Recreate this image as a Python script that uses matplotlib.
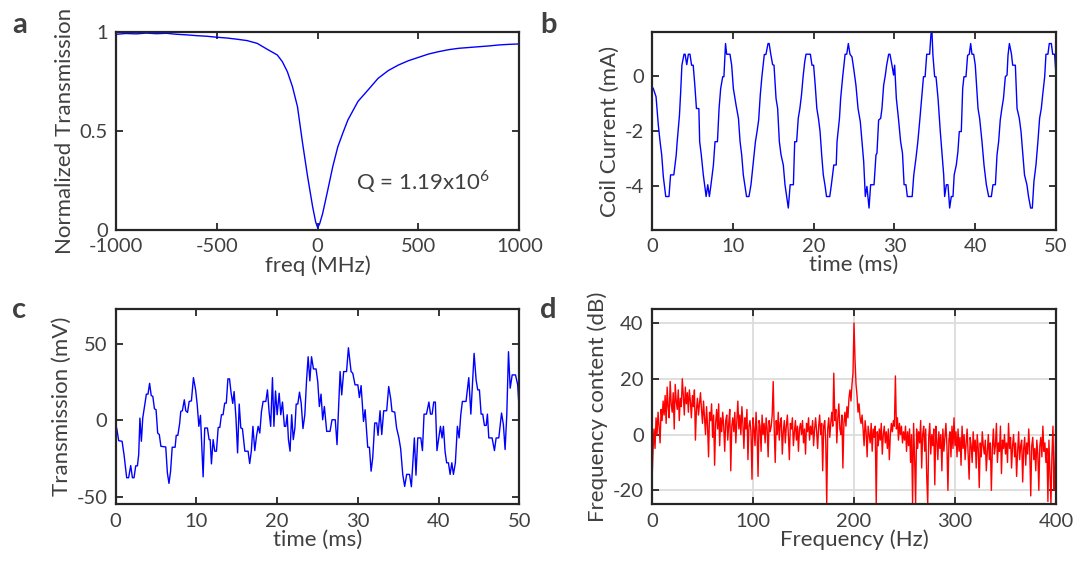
import numpy as np
import matplotlib
matplotlib.use("Agg")
import matplotlib.pyplot as plt

plt.rcParams['font.family'] = ['Lato', 'DejaVu Sans']
plt.rcParams['mathtext.fontset'] = 'custom'
plt.rcParams['mathtext.rm'] = 'Lato'
plt.rcParams['axes.unicode_minus'] = False

TXT = '#404040'
SPINE = '#262626'

# ---------------- panel a: resonance dip ----------------
freq_a = [-1000, -950, -900, -850, -800, -750, -700, -650, -600, -550, -500, -450, -400, -350, -300, -250,
          -200, -175, -150, -125, -100, -75, -50, -25, -10, 0, 10, 25, 50, 75, 100, 125, 150, 200,
          250, 300, 350, 400, 450, 500, 550, 600, 650, 700, 750, 800, 850, 900, 950, 1000]
trans_a = [0.990, 0.994, 0.992, 0.996, 0.993, 0.995, 0.990, 0.987, 0.983, 0.980, 0.975, 0.971, 0.965, 0.958, 0.944, 0.914,
           0.885, 0.851, 0.800, 0.725, 0.623, 0.440, 0.270, 0.117, 0.040, 0.010, 0.030, 0.083, 0.200, 0.320, 0.420, 0.490, 0.556, 0.650,
           0.708, 0.767, 0.806, 0.834, 0.856, 0.873, 0.890, 0.902, 0.912, 0.919, 0.923, 0.927, 0.931, 0.936, 0.939, 0.941]

# ---------------- panel b: coil current ----------------
time_b = [0.0, 0.16, 0.5, 0.78, 1.0, 1.2, 1.4, 1.7, 2.1, 2.3, 2.7, 3.0, 3.1, 3.4, 3.55, 3.7, 3.96, 4.1, 4.3, 4.5, 4.7, 4.9, 5.1,
          5.3, 5.5, 5.8, 5.9, 6.1, 6.35, 6.7, 6.9, 7.1, 7.3, 7.6, 7.8, 8.1, 8.3, 8.5, 8.75, 8.9, 9.1, 9.24, 9.65, 9.86,
          10.07, 10.4, 10.7, 10.9, 11.1, 11.3, 11.7, 12.0, 12.25, 12.5, 12.8, 13.0, 13.2, 13.4, 13.6, 13.9, 14.1, 14.36,
          14.5, 14.7, 14.93, 15.1, 15.35, 15.55, 15.76, 15.97, 16.25, 16.46, 16.67, 16.87, 17.1, 17.5, 17.66, 17.9, 18.1,
          18.3, 18.5, 18.7, 18.9, 19.06, 19.6, 19.8, 20.0, 20.2, 20.4, 20.6, 20.8, 21.0, 21.2, 21.4, 21.6, 22.0, 22.2,
          22.5, 22.8, 22.9, 23.2, 23.35, 23.6, 23.9, 24.1, 24.3, 24.5, 24.75, 24.96, 25.24, 25.5, 25.78, 25.99, 26.2,
          26.4, 26.6, 26.86, 27.06, 27.48, 27.72, 27.84, 28.05, 28.3, 28.46, 28.67, 28.88, 29.04, 29.29, 29.45, 29.7,
          29.9, 30.03, 30.24, 30.5, 30.77, 31.0, 31.2, 31.43, 31.6, 32.2, 32.4, 32.67, 32.9, 33.16, 33.4, 33.6, 33.8,
          34.0, 34.36, 34.53, 34.65, 34.77, 34.98, 35.15, 35.4, 35.68, 35.9, 36.1, 36.22, 36.43, 36.63, 36.84, 37.04,
          37.25, 37.4, 37.66, 37.86, 38.03, 38.28, 38.45, 38.61, 38.86, 39.06, 39.27, 39.44, 39.6, 39.81, 40.01, 40.35,
          40.55, 40.84, 41.09, 41.38, 41.67, 42.0, 42.2, 42.5, 42.7, 42.9, 43.1, 43.3, 43.5, 43.73, 43.94, 44.06, 44.23,
          44.48, 44.64, 44.97, 45.18, 45.46, 45.67, 45.87, 46.1, 46.4, 46.6, 46.86, 47.07, 47.27, 47.52, 47.76, 47.97,
          48.18, 48.35, 48.6, 48.76, 49.0, 49.17, 49.42, 49.59, 49.83, 50.0]
current_b = [-0.39, -0.45, -0.75, -1.78, -2.39, -2.87, -3.66, -4.39, -4.39, -3.6, -3.6, -2.87, -2.45, -1.42, -0.57, 0.4, 0.8, 0.8, 0.42, 0.8, 0.8, 0.4, 0.4,
             -0.33, -1.18, -1.18, -2.39, -2.87, -3.6, -4.39, -3.96, -4.39, -3.96, -3.24, -2.39, -2.39, -1.18, -0.45, -0.02, -0.02, 1.19, 0.8, 0.8, 0.4,
             -0.45, -1.05, -1.54, -2.39, -2.87, -3.6, -4.39, -4.39, -3.96, -3.24, -2.39, -2.02, -1.6, -0.69, -0.02, 0.79, 0.79, 1.19,
             1.19, 0.8, 0.42, 0.4, -0.81, -1.18, -2.39, -2.87, -3.24, -3.96, -4.39, -4.81, -3.96, -3.96, -2.39, -2.39, -1.54,
             -1.18, -0.69, -0.02, 0.52, 0.8, 0.8, 0.4, 0.4, -0.33, -1.18, -1.54, -2.02, -2.87, -3.6, -3.96, -4.39, -4.39, -3.96,
             -3.24, -3.24, -2.39, -1.54, -0.81, -0.02, 0.8, 0.8, 1.19, 0.8, 0.7, 0.28, -0.33, -1.18, -1.66, -2.39, -3.12,
             -4.39, -4.02, -4.81, -3.96, -3.96, -2.87, -2.81, -1.6, -1.54, -1.18, -0.33, 0.04, 0.4, 0.8, 0.8, 0.4,
             0.04, 0.4, -0.81, -1.54, -2.39, -2.81, -3.96, -3.96, -4.39, -4.39, -3.6, -2.99, -2.39, -1.54, -0.69, -0.02, -0.02,
             0.8, 0.8, 1.55, 1.6, 0.76, -0.02, -0.02, -0.81, -2.02, -2.87, -3.6, -4.39, -3.96, -3.96, -4.81, -4.39,
             -4.39, -3.6, -3.24, -2.75, -2.02, -2.02, -0.45, -0.02, -0.02, 0.76, 0.8, 1.19, 0.8, 0.8, 0.4, -1.18,
             -1.54, -2.39, -3.24, -3.96, -4.39, -4.39, -3.96, -3.96, -2.87, -2.39, -1.6, -1.18, -0.81, -0.02, 0.04, 0.76, 1.19,
             0.82, 0.4, 0.4, -1.18, -1.54, -2.02, -2.75, -3.6, -3.96, -4.39, -4.81, -4.81, -3.84, -3.24, -2.39, -1.54,
             -1.18, -0.69, -0.02, 0.8, 0.8, 1.19, 1.19, 0.8, 0.8, 0.04]

# ---------------- panel c: transmission ----------------
time_c = [0.0, 0.12, 0.37, 0.79, 1.03, 1.36, 1.6, 1.86, 2.07, 2.27, 2.48, 2.69, 2.85, 3.0, 3.18, 3.35, 3.6, 3.8, 4.0, 4.2,
          4.4, 4.6, 4.8, 5.0, 5.2, 5.4, 5.6, 6.2, 6.4, 6.6, 6.8, 7.0, 7.36, 7.5, 7.7, 7.93, 8.06, 8.26, 8.5, 8.68, 8.9,
          9.1, 9.38, 9.63, 9.9, 10.1, 10.3, 10.5, 10.83, 11.03, 11.36, 11.57, 11.7, 11.86, 12.07, 12.27, 12.48, 12.7,
          12.9, 13.1, 13.3, 13.5, 13.7, 13.9, 14.1, 14.3, 14.5, 14.67, 14.9, 15.1, 15.3, 15.5, 15.7, 16.0, 16.4, 16.6,
          16.8, 17.0, 17.23, 17.44, 17.65, 17.85, 18.06, 18.26, 18.6, 18.8, 19.0, 19.2, 19.42, 19.6, 19.8, 20.0, 20.25,
          20.45, 20.66, 20.9, 21.07, 21.24, 21.4, 21.6, 21.8, 22.0, 22.2, 22.36, 22.56, 22.77, 22.98, 23.2, 23.43,
          23.64, 23.84, 24.05, 24.26, 24.5, 24.82, 25.03, 25.23, 25.44, 25.64, 25.85, 26.14, 26.55, 26.8, 27.2, 27.42,
          27.8, 28.0, 28.24, 28.6, 28.83, 29.16, 29.37, 29.65, 30.0, 30.19, 30.4, 30.7, 30.9, 31.22, 31.43, 31.64,
          31.84, 32.09, 32.34, 32.5, 32.75, 32.96, 33.2, 33.57, 33.82, 34.07, 34.23, 34.57, 34.8, 35.07, 35.3, 35.56,
          35.8, 36.05, 36.4, 36.63, 37.0, 37.2, 37.42, 37.8, 38.0, 38.2, 38.5, 38.8, 39.0, 39.2, 39.4, 39.6, 39.8,
          40.02, 40.23, 40.43, 40.6, 40.8, 41.0, 41.22, 41.43, 41.64, 41.84, 42.08, 42.33, 42.54, 42.75, 42.95, 43.4,
          43.74, 44.0, 44.4, 44.65, 44.85, 45.06, 45.27, 45.47, 45.68, 45.9, 46.05, 46.22, 46.63, 46.92, 47.13, 47.46,
          47.8, 48.03, 48.24, 48.45, 48.66, 48.87, 49.12, 49.53, 49.8, 50.0]
volt_c = [-8, -5, -13.3, -13.7, -22.4, -37.6, -37.6, -29.6, -37.6, -37.6, -29.8, -29.8, -22.4, 1.5, -13.7, 1.5, 10.2, 17.2, 17.2, 24.3,
          16.3, 15.7, 7.6, 7.0, -8.3, -9.3, -17, -17.4, -34.3, -41.3, -33.3, -17.6, -17.6, -9.8, -9.8, -1.7, 5.9, 6.3, 13.5, 6.3, 5.2,
          12.4, 12.8, 28, 20, 10.2, -3.9, 3.3, -37, -5, -5, -12.6, -12.6, -28.5, -12.6, -20.2, -20.2, -4.6,
          -4.6, 3.7, 3.7, 11.3, 11.3, 27.2, 27.2, 17.8, 11.1, 18.9, 1.5, -21.3, 10.7, -5, -5.4, -20.2, -20.2, -28.3,
          -20.2, -3.9, -19.8, -10.4, -3.9, -8.3, 5.9, 12.4, 12.4, 20, 5.9, -3.9, 28, -3.9, 19.3, 3.7, 17.8,
          3.7, 12, -3.9, -3.9, 3.7, -12.6, -20.2, 3.7, -12.6, -5, 10.7, 10.7, 18.5, 11.3, -5.4, 3.7,
          25.9, 41.7, 25.9, 41.7, 33.7, 33.7, 25.4, 9.1, 17.2, 0.4, 9.1, -7.2, -7.2, 0.4, 0.4, -15.9,
          32, 16.7, 32, 32, 47.6, 32, 30.9, 23.3, 23.3, 15, 22.8, -0.7, 7, -17.6, -17.6, -33.3,
          -24.6, -1.7, -1.7, -9.8, 6.3, -9.3, 6.3, 6.3, 22.2, 14.1, 5.9, 5.4, -5, -11.1, -18.5, -35.4,
          -43.3, -35.4, -35.4, -43.5, -11.5, -35.9, -11.5, -11.5, -19.8, 4.1, 4.1, 12, 4.1, 4.1, 12, 12, -19.8,
          -11.5, -3.9, -11.5, -3.9, -20.2, -27.8, -27.8, -35.4, -27.8, -35.4, -27.8, -3.9, -11.5, 3.7, 12.4, 12.4,
          28, 4.1, 43.9, 26.5, 20, 20, 4.1, 4.1, -3.3, -3.3, 4.1, -11.5, -11.5, -19.8, -11.5, -11.5,
          4.8, -2.8, -19.1, 3.7, 45, 21.1, 29.8, 29.8, 23.3, 5.9]

# ---------------- panel d: frequency content ----------------
spec_d = [
    -17, -6, 2, -5, 6, 0, 8, 3, -3, 9, 5, 12, 7, 14, 4, 17, 10, 6, 19, 11, 8, 15, 2, 18, 12, 9, 16, 5, 13, 10,
    20, 14, 7, 17, 11, 15, 8, 16, 12, 6, 14, 10, 16, -2, 9, 13, 7, 11, 15, 9,
    4, 12, 6, 0, 10, 3, -8, 8, 5, 11, -1, 7, -11, 4, 9, 2, 11, -4, 6, 1, 8, 3, -6, 5, 7, -2, 4, 9, -13, 3,
    6, 1, 8, -3, 5, 12, 2, 7, 0, 10, 4, -5, 6, 2, 9, -9, 3, 5, 1, -16,
    6, 2, -4, 8, 1, -15, 5, 3, -6, 7, 0, 4, -3, 6, 2, -8, 5, 1, 3, 7, 19, 2, -10, 5, 0, 8, -2, 4, 6, -7,
    1, 5, -3, 3, 7, 0, -9, 4, 2, 6, -4, 1, 5, -2, 3, -6, 2, 4, 0, 5,
    -3, 2, -7, 4, 1, 6, -2, 3, 0, 5, -4, 2, 6, 1, -5, 3, 7, 0, 4, -13, 3, 5, -2, -25, 2, 6, -1, 4, 8, 3,
    22, 5, 9, -3, 6, 11, 2, 0, 7, -12, 4, 8, 3, 10, 6, 13, 16, 12, 18, 22,
    40, 27, 18, 14, 8, 11, 6, 4, 7, 2, -4, 5, 1, -8, 3, 0, -3, 4, -6, 2, -1, 3, -25, 1, -4, 2, -2, 4, -7, 0,
    3, -3, 1, -5, 2, -9, 0, 4, 1, 5, 3, 21, 2, 6, -2, 4, 0, 3, -3, 1,
    -2, 3, -6, 1, -4, 2, -10, 0, -25, 4, -8, -25, 2, -5, 1, -3, 5, -12, 0, 3, -6, 2, -15, -25, -1, 4, -7, 0, -4, 2,
    -18, 3, -2, -9, 1, -5, 0, -13, 2, -6, -1, 4, -4, -20, -2, 1, -8, 3, -5, 6,
    -4, 1, -8, 2, -6, -1, -11, 3, -5, 0, -9, -3, 2, -7, -16, -1, -4, -10, 1, -6, -2, -12, 0, -5, -19, -3, -8, 1, -4, -7,
    -2, -13, -6, 0, -9, -3, -20, -5, 2, -7, -4, 4, -10, -3, -6, 3, -14, -2, -5, 0,
    -7, -3, -10, 4, -5, -1, -12, -4, 0, -8, -3, -15, -6, 1, -9, -4, -2, -17, -5, -1, -11, -3, -7, 2, -6, -22, -4, -1, -9, -5,
    -13, -2, -7, -20, -4, -1, -8, 3, -6, -3, -10, -5, -24, -2, -14, -25, -7, 3, -20, -12, 10]
freq_d = np.linspace(0, 400, len(spec_d))

W, H = 1084, 564
fig = plt.figure(figsize=(W / 100, H / 100), dpi=100)


def make_ax(x0, y0, x1, y1):
    ax = fig.add_axes([x0 / W, 1 - y1 / H, (x1 - x0) / W, (y1 - y0) / H])
    for s in ax.spines.values():
        s.set_linewidth(1.6)
        s.set_color(SPINE)
    ax.tick_params(direction='in', top=True, right=True, length=5, width=1.3, color=SPINE,
                   labelsize=14.5, labelcolor=TXT, pad=6)
    return ax


lab_kw = dict(fontsize=16, color=TXT)
letter_kw = dict(fontsize=21, fontweight='bold', color='#404040', ha='left', va='top')

# a
ax = make_ax(116, 32.3, 519.3, 229.7)
ax.plot(freq_a, trans_a, color='#0000ff', lw=1)
ax.set_xlim(-1000, 1000)
ax.set_ylim(0, 1)
ax.set_xticks([-1000, -500, 0, 500, 1000])
ax.set_yticks([0, 0.5, 1])
ax.set_yticklabels(['0', '0.5', '1'])
ax.set_xlabel('freq (MHz)', labelpad=0, **lab_kw)
ax.set_ylabel('Normalized Transmission', labelpad=3, **lab_kw)
ax.text(190, 0.245, r'Q = 1.19x10$^{\mathregular{6}}$', fontsize=16, color=TXT, va='center')
fig.text(12 / W, 1 - 12 / H, 'a', **letter_kw)

# b
ax = make_ax(652, 32.3, 1056, 229.7)
ax.plot(time_b, current_b, color='#0000ff', lw=1)
ax.set_xlim(0, 50)
ax.set_ylim(-5.6, 1.6)
ax.set_xticks(range(0, 51, 10))
ax.set_yticks([-4, -2, 0])
ax.set_xlabel('time (ms)', labelpad=0, **lab_kw)
ax.set_ylabel('Coil Current (mA)', labelpad=3, **lab_kw)
fig.text(540 / W, 1 - 12 / H, 'b', **letter_kw)

# c
ax = make_ax(115.7, 309, 519.3, 504.3)
ax.plot(time_c, volt_c, color='#0000ff', lw=1)
ax.set_xlim(0, 50)
ax.set_ylim(-55, 73)
ax.set_xticks(range(0, 51, 10))
ax.set_yticks([-50, 0, 50])
ax.set_xlabel('time (ms)', labelpad=0, **lab_kw)
ax.set_ylabel('Transmission (mV)', labelpad=3, **lab_kw)
fig.text(12 / W, 1 - 297 / H, 'c', **letter_kw)

# d
ax = make_ax(652, 309, 1056, 504.3)
ax.plot(freq_d, spec_d, color='#ff0000', lw=1)
ax.set_xlim(0, 400)
ax.set_ylim(-25, 45)
ax.set_xticks([0, 100, 200, 300, 400])
ax.set_yticks([-20, 0, 20, 40])
ax.grid(True, color='#dcdcdc', lw=1.3)
ax.set_axisbelow(True)
ax.set_xlabel('Frequency (Hz)', labelpad=0, **lab_kw)
ax.set_ylabel('Frequency content (dB)', labelpad=3, **lab_kw)
fig.text(540 / W, 1 - 297 / H, 'd', **letter_kw)

fig.savefig('out.png', dpi=100)
